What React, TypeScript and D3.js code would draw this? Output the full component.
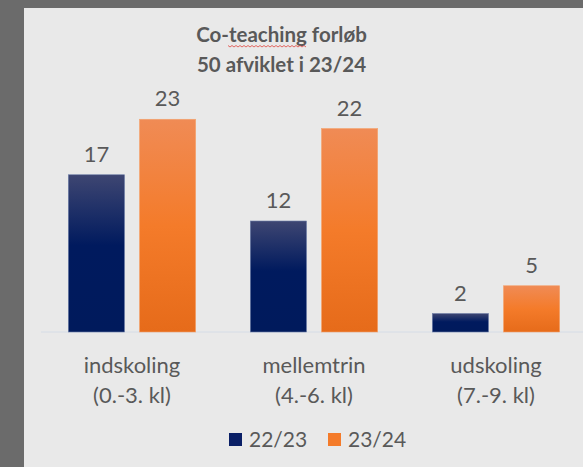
import React from 'react';
import * as d3 from 'd3';

const categories = ['indskoling', 'mellemtrin', 'udskoling'];
const subLabels = ['(0.-3. kl)', '(4.-6. kl)', '(7.-9. kl)'];
const seriesNames = ['22/23', '23/24'];
const values2223 = [17, 12, 2];
const values2324 = [23, 22, 5];
const titleLines = ['Co-teaching forløb', '50 afviklet i 23/24'];

const width = 583;
const height = 467;
const font = 'Lato, "Noto Sans", sans-serif';
const textColor = '#595959';

const App = () => {
  const seriesValues = [values2223, values2324];

  const x0 = d3.scaleBand<string>()
    .domain(categories)
    .range([41, 587])
    .paddingInner(0.3)
    .paddingOuter(0.15);

  const x1 = d3.scaleBand<string>()
    .domain(seriesNames)
    .range([0, x0.bandwidth()])
    .paddingInner(0.21);

  const y = d3.scaleLinear()
    .domain([0, 25])
    .range([332, 100.75]);

  const fills = ['url(#gradBlue)', 'url(#gradOrange)'];
  const strokes = ['#6f7fa8', '#f5a570'];
  const legendColors = ['#0a1f66', '#f47b2a'];

  return (
    <svg width={width} height={height} style={{ position: 'absolute', left: 0, top: 0 }}>
      <defs>
        <linearGradient id="gradBlue" x1="0" y1="0" x2="0" y2="1">
          <stop offset="0" stopColor="#3e4672" />
          <stop offset="0.45" stopColor="#001a5e" />
          <stop offset="1" stopColor="#001a5c" />
        </linearGradient>
        <linearGradient id="gradOrange" x1="0" y1="0" x2="0" y2="1">
          <stop offset="0" stopColor="#f08b55" />
          <stop offset="0.5" stopColor="#f47b2a" />
          <stop offset="1" stopColor="#e66b1a" />
        </linearGradient>
      </defs>

      <rect x={0} y={0} width={width} height={height} fill="#6b6b6b" />
      <rect x={24} y={8} width={width - 24} height={height - 8} fill="#e9e9e9" />

      {/* title */}
      <g fontFamily={font} fontWeight="bold" fontSize={20.5} fill={textColor} textAnchor="middle">
        <text x={281.5} y={42}>{titleLines[0]}</text>
        <text x={281.5} y={72}>{titleLines[1]}</text>
      </g>
      {/* spell-check squiggle under "teaching" */}
      <path
        d={d3.range(0, 40).map((i) => `${i === 0 ? 'M' : 'L'}${228 + i * 2},${i % 2 ? 47 : 45.5}`).join(' ')}
        fill="none"
        stroke="#e0453f"
        strokeWidth={0.8}
      />

      {/* axis line */}
      <line x1={41} x2={587} y1={y(0)} y2={y(0)} stroke="#d5dce6" strokeWidth={1} />

      {/* bars */}
      {categories.map((cat, ci) => (
        <g key={cat} transform={`translate(${x0(cat)},0)`}>
          {seriesNames.map((s, si) => {
            const v = seriesValues[si][ci];
            const bx = x1(s) as number;
            return (
              <g key={s}>
                <rect
                  x={bx}
                  y={y(v)}
                  width={x1.bandwidth()}
                  height={y(0) - y(v)}
                  fill={fills[si]}
                  stroke={strokes[si]}
                  strokeWidth={0.6}
                />
                <text
                  x={bx + x1.bandwidth() / 2}
                  y={y(v) - 13}
                  textAnchor="middle"
                  fontFamily={font}
                  fontSize={22}
                  fill={textColor}
                >
                  {v}
                </text>
              </g>
            );
          })}
        </g>
      ))}

      {/* category labels */}
      {categories.map((cat, ci) => {
        const cx = (x0(cat) as number) + x0.bandwidth() / 2;
        return (
          <g key={cat} fontFamily={font} fontSize={22} fill={textColor} textAnchor="middle">
            <text x={cx} y={372.5}>{cat}</text>
            <text x={cx} y={403}>{subLabels[ci]}</text>
          </g>
        );
      })}

      {/* legend */}
      {seriesNames.map((s, si) => (
        <g key={s} transform={`translate(${229 + si * 99},433)`}>
          <rect x={0} y={0} width={13} height={13} fill={legendColors[si]} />
          <text x={20} y={13.5} fontFamily={font} fontSize={21} fill={textColor}>{s}</text>
        </g>
      ))}
    </svg>
  );
};

export default App;
